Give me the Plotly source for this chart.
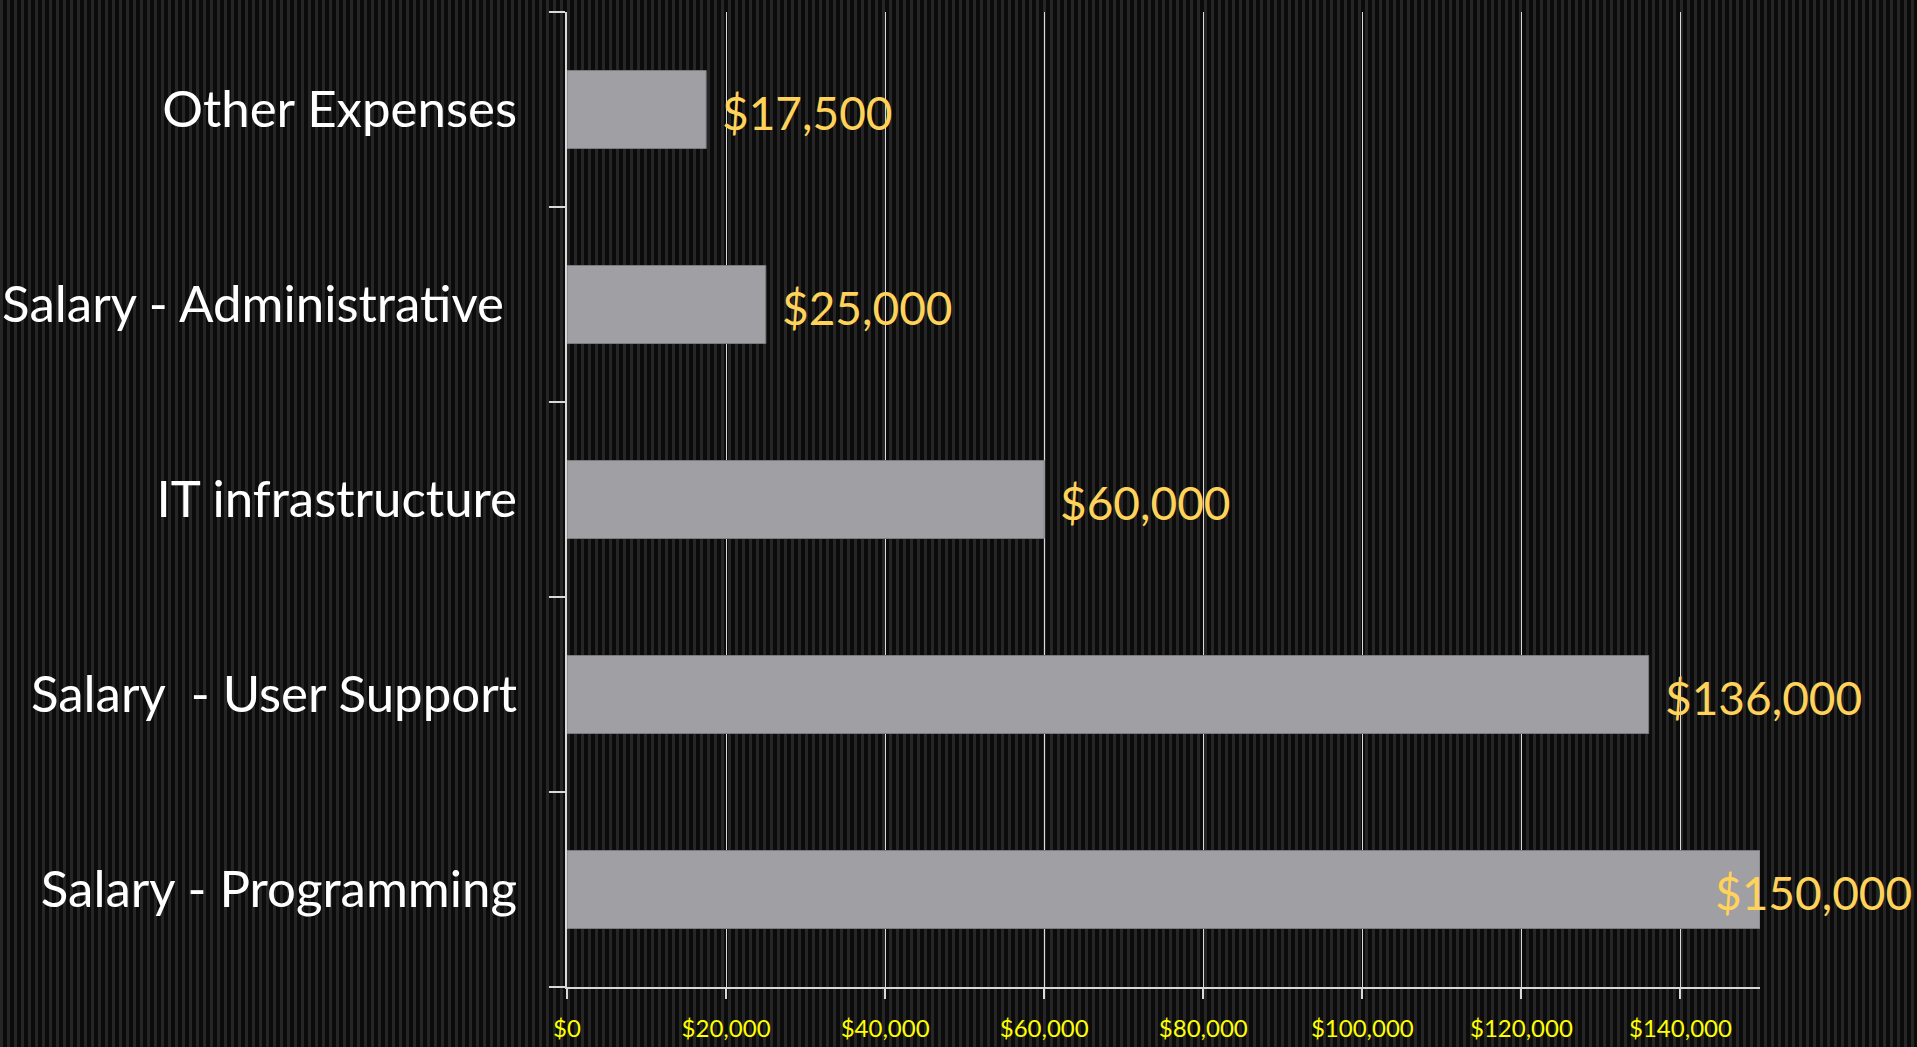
import plotly.graph_objects as go

categories = ["Salary - Programming", "Salary  - User Support", "IT infrastructure",
              "Salary - Administrative ", "Other Expenses"]
values = [150000, 136000, 60000, 25000, 17500]
value_labels = ["$150,000", "$136,000", "$60,000", "$25,000", "$17,500"]
x_tickvals = [0, 20000, 40000, 60000, 80000, 100000, 120000, 140000]
x_ticktext = ["$0", "$20,000", "$40,000", "$60,000", "$80,000", "$100,000", "$120,000", "$140,000"]

W, H = 1917, 1047
ML, MR, MT, MB = 567, 157, 12, 60

# striped dark background as an inline SVG
svg = (
    "<svg xmlns='http://www.w3.org/2000/svg' width='{w}' height='{h}'>"
    "<defs><pattern id='p' width='7' height='7' patternUnits='userSpaceOnUse'>"
    "<rect width='7' height='7' fill='%230b0b0b'/>"
    "<rect x='0' width='3' height='7' fill='%23262626'/>"
    "</pattern></defs><rect width='100%25' height='100%25' fill='url(%23p)'/></svg>"
).format(w=W, h=H)
bg_uri = "data:image/svg+xml;utf8," + svg

fig = go.Figure()
fig.add_trace(go.Bar(
    x=values, y=categories, orientation="h",
    marker=dict(color="#a09fa4", line=dict(color="#7a797d", width=1)),
    hoverinfo="skip",
))

vmax = max(values)
for v, c, t in zip(values, categories, value_labels):
    fig.add_annotation(
        x=v, y=c, text=t, showarrow=False, xanchor="left", yanchor="middle",
        xshift=(-47 if v == vmax else 14), yshift=-3,
        font=dict(family="Lato", size=46, color="#ffd25a"),
    )

fig.update_layout(
    width=W, height=H,
    margin=dict(l=ML, r=MR, t=MT, b=MB, autoexpand=False),
    paper_bgcolor="#141414",
    plot_bgcolor="rgba(0,0,0,0)",
    showlegend=False,
    bargap=0.6,
    images=[dict(source=bg_uri, xref="paper", yref="paper",
                 x=-ML / (W - ML - MR), y=1 + MT / (H - MT - MB),
                 sizex=W / (W - ML - MR), sizey=H / (H - MT - MB),
                 xanchor="left", yanchor="top", sizing="stretch", layer="below")],
    xaxis=dict(
        range=[0, 150000], tickvals=x_tickvals, ticktext=x_ticktext,
        showgrid=True, gridcolor="#d9d9d9", gridwidth=1,
        showline=True, linecolor="#d9d9d9", linewidth=1.5,
        ticks="outside", ticklen=10, tickcolor="#d9d9d9", tickwidth=1.5,
        tickfont=dict(family="Lato", size=24, color="#ffff00"),
        ticklabelstandoff=9, zeroline=False, fixedrange=True, automargin=False,
    ),
    yaxis=dict(
        type="category", categoryorder="array", categoryarray=categories,
        showline=True, linecolor="#d9d9d9", linewidth=1.5,
        ticks="outside", ticklen=16, tickcolor="#d9d9d9", tickwidth=1.5,
        tickson="boundaries", showgrid=False,
        tickfont=dict(family="Lato", size=51, color="#ffffff"),
        ticklabelstandoff=38, fixedrange=True, automargin=False,
    ),
)

fig.write_html("out.html", config={"displayModeBar": False})
